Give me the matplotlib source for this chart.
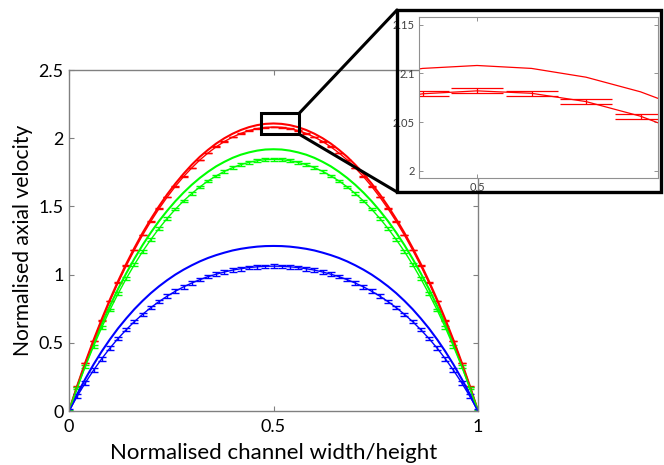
import numpy as np
import matplotlib
matplotlib.use('Agg')
import matplotlib.pyplot as plt
from matplotlib.patches import Rectangle, ConnectionPatch

plt.rcParams['font.family'] = ['Lato', 'DejaVu Sans']

# positions across the channel (normalised)
x_pos = np.arange(51) * 0.02

# solid lines (model) and measured means
red_line = [0, .184, .357, .520, .673, .817, .952, 1.079, 1.196, 1.306, 1.407, 1.501, 1.588,
            1.667, 1.739, 1.805, 1.864, 1.915, 1.961, 2.000, 2.033, 2.060, 2.081, 2.096, 2.105,
            2.108,
            2.105, 2.096, 2.081, 2.060, 2.033, 2.000, 1.961, 1.915, 1.864, 1.805, 1.739, 1.667,
            1.588, 1.501, 1.407, 1.306, 1.196, 1.079, .952, .817, .673, .520, .357, .184, 0]
red_mean = [0, .181, .352, .513, .665, .807, .940, 1.065, 1.181, 1.290, 1.390, 1.483, 1.568,
            1.647, 1.718, 1.782, 1.841, 1.892, 1.937, 1.976, 2.008, 2.035, 2.056, 2.070, 2.079,
            2.082,
            2.0795, 2.071, 2.056, 2.035, 2.008, 1.976, 1.937, 1.892, 1.841, 1.782, 1.718, 1.647,
            1.568, 1.483, 1.390, 1.290, 1.181, 1.065, .940, .807, .665, .513, .352, .181, 0]
green_line = [0, .175, .340, .493, .637, .771, .895, 1.010, 1.117, 1.217, 1.308, 1.392, 1.468,
              1.538, 1.601, 1.658, 1.709, 1.754, 1.794, 1.827, 1.856, 1.879, 1.896, 1.909, 1.917,
              1.919,
              1.917, 1.909, 1.896, 1.879, 1.856, 1.827, 1.794, 1.754, 1.709, 1.658, 1.601, 1.538,
              1.468, 1.392, 1.308, 1.217, 1.117, 1.010, .895, .771, .637, .493, .340, .175, 0]
green_mean = [0, .169, .327, .474, .612, .741, .860, .971, 1.074, 1.170, 1.257, 1.338, 1.412,
              1.479, 1.540, 1.594, 1.643, 1.687, 1.724, 1.757, 1.784, 1.806, 1.823, 1.835, 1.843,
              1.845,
              1.843, 1.835, 1.823, 1.806, 1.784, 1.757, 1.724, 1.687, 1.643, 1.594, 1.540, 1.479,
              1.412, 1.338, 1.257, 1.170, 1.074, .971, .860, .741, .612, .474, .327, .169, 0]
blue_line = [0, .123, .236, .341, .437, .525, .606, .679, .747, .808, .864, .914, .959,
             1.000, 1.036, 1.068, 1.097, 1.122, 1.143, 1.161, 1.177, 1.189, 1.198, 1.205, 1.209,
             1.210,
             1.209, 1.205, 1.198, 1.189, 1.177, 1.161, 1.143, 1.122, 1.097, 1.068, 1.036, 1.000,
             .959, .914, .864, .808, .747, .679, .606, .525, .437, .341, .236, .123, 0]
blue_mean = [0, .108, .207, .299, .383, .461, .532, .596, .656, .709, .758, .802, .842,
             .878, .910, .938, .963, .985, 1.003, 1.019, 1.033, 1.043, 1.052, 1.057, 1.061,
             1.062,
             1.061, 1.057, 1.052, 1.043, 1.033, 1.019, 1.003, .985, .963, .938, .910, .878,
             .842, .802, .758, .709, .656, .596, .532, .461, .383, .299, .207, .108, 0]

# error bar half-heights
red_err = 0.0026
green_err = 0.009
blue_err = 0.013

series = [('#ff0000', red_line, red_mean, red_err),
          ('#00ff00', green_line, green_mean, green_err),
          ('#0000ff', blue_line, blue_mean, blue_err)]

x_ticks = [0, 0.5, 1]
x_ticklabels = ['0', '0.5', '1']
y_ticks = [0, 0.5, 1, 1.5, 2, 2.5]
y_ticklabels = ['0', '0.5', '1', '1.5', '2', '2.5']
inset_yticks = [2, 2.05, 2.1, 2.15]
inset_yticklabels = ['2', '2.05', '2.1', '2.15']

W, H = 664, 465
fig = plt.figure(figsize=(W / 100, H / 100), dpi=100)
ax = fig.add_axes([69 / W, 1 - 411 / H, 409 / W, 341 / H])

for c, line, mean, err in series:
    ax.plot(x_pos, line, color=c, lw=1.5)
    ax.errorbar(x_pos, mean, yerr=err, color=c, lw=1.0, elinewidth=1.0,
                capsize=2.9, capthick=1.0)

ax.set_xlim(0, 1)
ax.set_ylim(0, 2.5)
ax.set_xticks(x_ticks)
ax.set_xticklabels(x_ticklabels)
ax.set_yticks(y_ticks)
ax.set_yticklabels(y_ticklabels)
ax.tick_params(direction='in', length=3.5, width=0.8, color='#808080',
               labelsize=13, top=True, right=True)
ax.tick_params(axis='x', pad=6)
ax.tick_params(axis='y', pad=4)
for s in ax.spines.values():
    s.set_color('#808080')
    s.set_linewidth(1.0)
ax.set_xlabel('Normalised channel width/height', fontsize=16)
ax.set_ylabel('Normalised axial velocity', fontsize=15.2)
ax.xaxis.set_label_coords(0.5, -0.095)
ax.yaxis.set_label_coords(-0.088, 0.5)

# zoom box on the main plot
ax.add_patch(Rectangle((0.469, 2.029), 0.094, 0.154, fill=False, ec='k', lw=2.2, zorder=5))

# inset frame and connectors
frame_x0, frame_y0 = 397 / W, 1 - 192 / H
frame_w, frame_h = 264 / W, 182 / H
fig.add_artist(Rectangle((frame_x0, frame_y0), frame_w, frame_h, transform=fig.transFigure,
                         fill=False, ec='k', lw=2.4))
fig.add_artist(ConnectionPatch(xyA=(0.563, 2.183), coordsA=ax.transData,
                               xyB=(frame_x0, frame_y0 + frame_h), coordsB=fig.transFigure,
                               color='k', lw=2.2))
fig.add_artist(ConnectionPatch(xyA=(0.563, 2.029), coordsA=ax.transData,
                               xyB=(frame_x0, frame_y0), coordsB=fig.transFigure,
                               color='k', lw=2.2))

axi = fig.add_axes([419 / W, 1 - 177.7 / H, 239 / W, 161 / H])
axi.plot(x_pos, red_line, color='#ff0000', lw=0.9)
axi.errorbar(x_pos, red_mean, yerr=red_err, color='#ff0000', lw=0.9, elinewidth=0.9,
             capsize=19, capthick=0.9)
axi.set_xlim(0.4787, 0.5664)
axi.set_ylim(1.993, 2.158)
axi.set_xticks([0.5])
axi.set_xticklabels(['0.5'])
axi.set_yticks(inset_yticks)
axi.set_yticklabels(inset_yticklabels)
axi.tick_params(direction='in', length=3, width=0.6, color='#808080', labelsize=8,
                labelcolor='#404040', top=True, right=True, pad=3)
for s in axi.spines.values():
    s.set_color('#909090')
    s.set_linewidth(0.8)

fig.savefig('out.png', dpi=100, facecolor='white')
